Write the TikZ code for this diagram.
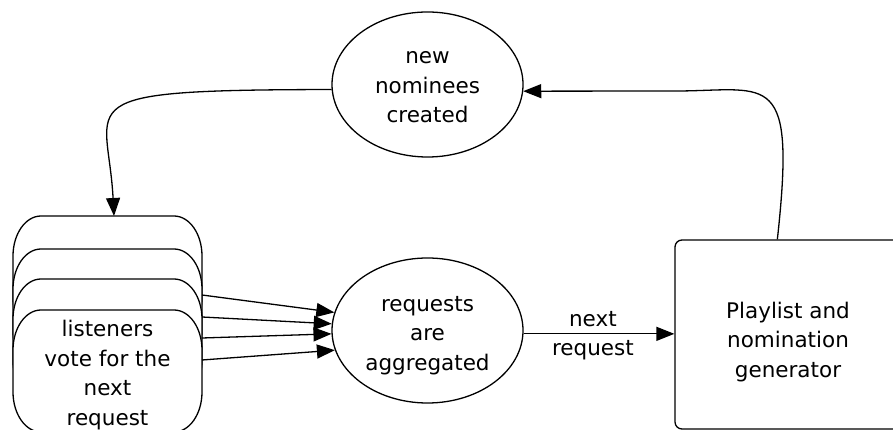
\documentclass[tikz,border=0pt]{standalone}
\usepackage{fontspec}
\usetikzlibrary{shapes.geometric,arrows.meta,calc}
\newfontfamily\dvs{DejaVu Sans}

\tikzset{
  lbl/.style={font=\dvs\fontsize{21.5}{29.5}\selectfont, align=center,
              execute at begin node=\strut, execute at end node=\strut},
  bubble/.style={ellipse, draw, fill=white, minimum width=191, minimum height=145,
                 inner sep=0pt},
  genbox/.style={rectangle, draw, rounded corners=7pt, minimum width=230,
                 minimum height=189, inner sep=0pt},
  flow/.style={-{Triangle[length=18pt,width=14pt]}},
}

\begin{document}
\begin{tikzpicture}[x=1pt, y=1pt, line width=1.3pt]
\useasboundingbox (0,0) rectangle (893,430);
\clip (0,0) rectangle (893,430);

% stack of listener cards, back to front
\foreach \t in {214,181,151,120}{
  \draw[fill=white] (41,\t) -- (174,\t)
    arc[start angle=90,end angle=0,x radius=28,y radius=40] -- (202,\t-82)
    arc[start angle=0,end angle=-90,x radius=28,y radius=40] -- (41,\t-122)
    arc[start angle=270,end angle=180,x radius=28,y radius=40] -- (13,\t-40)
    arc[start angle=180,end angle=90,x radius=28,y radius=40] -- cycle;
}
\node[lbl] (vote) at (107.5,52.6) {listeners\\vote for the\\next\\request};
\coordinate (cardtop) at (114,214);
\coordinate (s1) at (202,135);
\coordinate (s2) at (202,113);
\coordinate (s3) at (202,92);
\coordinate (s4) at (202,70);

% process bubbles and the generator box
\node[bubble] (nom) at (427.5,345.5) {};
\node[lbl] (nomtext) at (427.5,338.5) {new\\nominees\\created};
\node[bubble] (req) at (427.5,99.5) {};
\node[lbl] (reqtext) at (427.5,92.5) {requests\\are\\aggregated};
\node[genbox] (gen) at (790,95.5) {};
\node[lbl] (genlabel) at (788,86) {Playlist and\\nomination\\generator};

% votes flowing into the aggregator
\draw[flow] (s1) -- (req.169.5);
\draw[flow] (s2) -- (req.176);
\draw[flow] (s3) -- (req.182);
\draw[flow] (s4) -- (req.192);

% aggregated request to the generator
\draw[flow] (req.-2) -- (req.-2 -| gen.west)
  node[lbl, pos=0.46, yshift=-4pt] (nextreq) {next\\request};

% generator back to new nominees
\draw[flow] ($(gen.north west)+(103,0)$)
  .. controls (796,360) and (770,340) .. (680,339) -- (nom.-4);

% new nominees back to the listeners
\draw[flow] (nom.183) .. controls (60,340) and (108,330) .. (cardtop);
\end{tikzpicture}
\end{document}
